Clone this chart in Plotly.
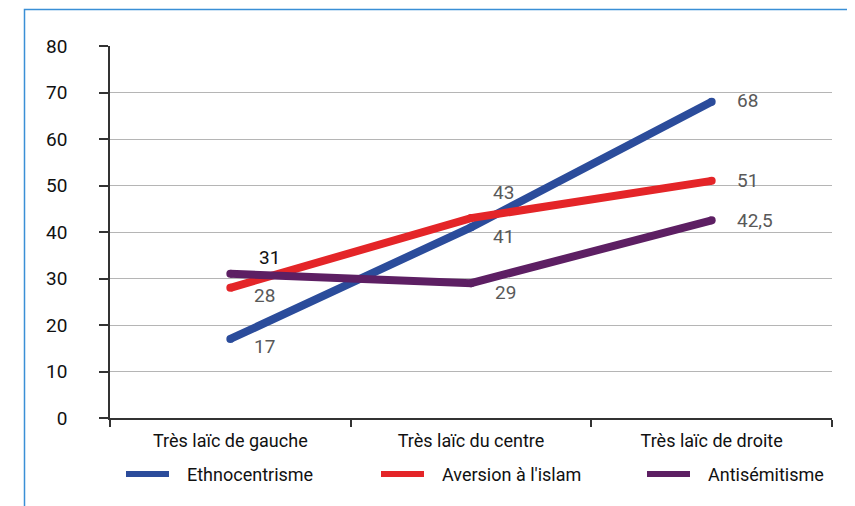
import plotly.graph_objects as go

categories = ["Très laïc de gauche", "Très laïc du centre", "Très laïc de droite"]
series_names = ["Ethnocentrisme", "Aversion à l'islam", "Antisémitisme"]
ethno = [17, 41, 68]
aversion = [28, 43, 51]
antisem = [31, 29, 42.5]
y_ticks = [0, 10, 20, 30, 40, 50, 60, 70, 80]

colors = ["#2b4c9b", "#e42528", "#5d1f63"]
FONT = "Roboto, Liberation Sans, sans-serif"
FS = 18
FN = 19

fig = go.Figure()
all_series = [ethno, aversion, antisem]
for name, vals, col in zip(series_names, all_series, colors):
    fig.add_trace(go.Scatter(
        x=categories, y=vals, mode="lines+markers", name=name,
        line=dict(color=col, width=8),
        marker=dict(color=col, size=8, line=dict(width=0)),
        showlegend=False,
    ))

def fmt(v):
    return ("%g" % v).replace(".", ",")

# label offsets (xshift, yshift, color) per series per point
offsets = [
    [(22, -8, "#595959"), (20, -9, "#595959"), (23, 1, "#595959")],
    [(22, -8, "#595959"), (20, 26, "#595959"), (23, 0, "#595959")],
    [(27, 16, "#111111"), (22, -9, "#595959"), (23, 0, "#595959")],
]
annotations = []
for vals, offs in zip(all_series, offsets):
    for i, (v, (dx, dy, c)) in enumerate(zip(vals, offs)):
        annotations.append(dict(
            x=i, y=v, xref="x", yref="y", text=fmt(v), showarrow=False,
            xanchor="left", yanchor="middle", xshift=dx, yshift=dy,
            font=dict(family=FONT, size=FN, color=c),
        ))

# page body has an 8px margin: work in window pixels, convert to figure pixels
OFF = 8
W, H = 855 - OFF, 506 - OFF
L, R, T, B = 110 - OFF, W - (832 - OFF), 46 - OFF, H - (418 - OFF)
pw, ph = W - L - R, H - T - B
def px(x):
    return (x - OFF - L) / pw
def py(y):
    return (H - B - (y - OFF)) / ph

legend_x = [122, 377, 643]
shapes = []
for lx, name, col in zip(legend_x, series_names, colors):
    shapes.append(dict(type="line", xref="paper", yref="paper",
                       x0=px(lx + 4), x1=px(lx + 47), y0=py(474), y1=py(474),
                       line=dict(color=col, width=6)))
    annotations.append(dict(x=px(lx + 63), y=py(474), xref="paper", yref="paper",
                            text=name, showarrow=False, xanchor="left", yanchor="middle",
                            font=dict(family=FONT, size=FS, color="#111111")))

# frame
shapes.append(dict(type="rect", xref="paper", yref="paper",
                   x0=px(24.5), x1=px(852), y0=py(9.5), y1=py(560),
                   line=dict(color="#3a8fd6", width=1.5), layer="below"))

fig.update_layout(
    width=W, height=H,
    margin=dict(l=L, r=R, t=T, b=B),
    paper_bgcolor="white", plot_bgcolor="white",
    font=dict(family=FONT, size=FS, color="#111111"),
    shapes=shapes, annotations=annotations,
    showlegend=False,
)
fig.update_xaxes(
    type="category", range=[-0.5, 2.5],
    showgrid=False, showline=True, linecolor="#333333", linewidth=1.5,
    ticks="outside", ticklen=7, tickcolor="#333333", tickwidth=1.5,
    tickson="boundaries", ticklabelstandoff=6, zeroline=False,
)
fig.update_yaxes(
    range=[0, 80], tickvals=y_ticks, showgrid=True, gridcolor="#b5b5b5", gridwidth=1,
    showline=True, linecolor="#333333", linewidth=1.5,
    ticks="outside", ticklen=9, tickcolor="#333333", tickwidth=1.5,
    ticklabelstandoff=28, zeroline=False, tickfont=dict(size=FN),
)
fig.write_html("out.html")
